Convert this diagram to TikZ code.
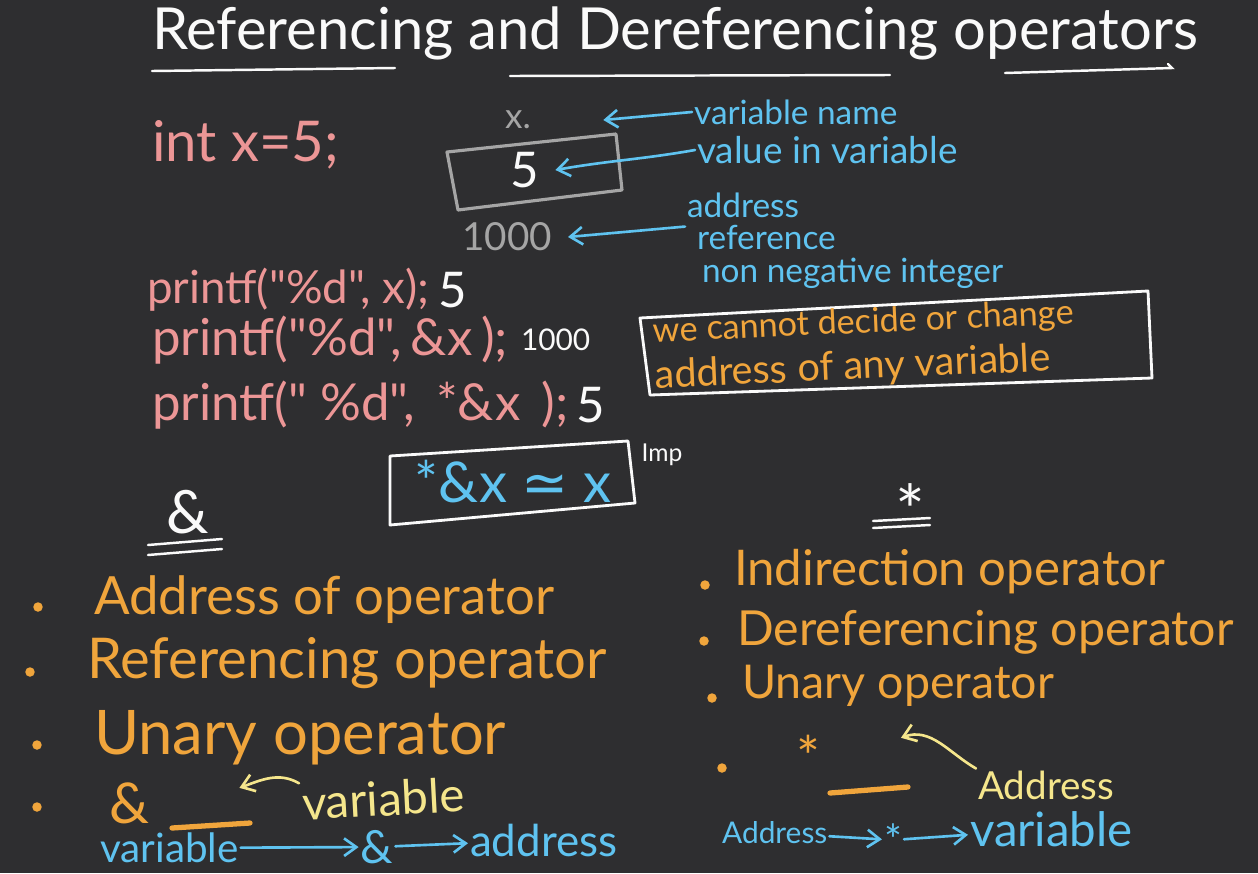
\documentclass[tikz,border=0pt]{standalone}
\usepackage{fontspec}
\setmainfont{Lato}
\newfontfamily\codefont{Lato}[Ligatures=TeXOff]
\newfontfamily\symfont{DejaVu Sans}
\usetikzlibrary{arrows.meta,positioning}
\definecolor{board}{RGB}{46,46,48}
\definecolor{chalk}{RGB}{250,250,250}
\definecolor{pinkc}{RGB}{236,150,150}
\definecolor{grayc}{RGB}{165,165,165}
\definecolor{bluec}{RGB}{95,195,240}
\definecolor{orangec}{RGB}{240,165,60}
\definecolor{yellowc}{RGB}{245,230,140}
\newcommand\hand[1]{\fontsize{#1}{#1}\selectfont}
\tikzset{
  >={Straight Barb[length=7pt,width=10pt]},
  title/.style={text=chalk, font=\hand{33}, inner sep=1pt},
  code/.style={text=pinkc, font=\codefont\hand{26}, inner sep=1pt},
  output/.style={text=chalk, font=\hand{22}, inner sep=1pt},
  memo/.style={text=grayc, font=\hand{20}, inner sep=1pt},
  note/.style={text=bluec, font=\hand{19}, inner sep=1pt},
  point/.style={text=orangec, font=\hand{30}, inner sep=1pt},
  tag/.style={text=yellowc, font=\hand{24}, inner sep=1pt},
  dot/.style={circle, fill=orangec, inner sep=0pt, minimum size=0.19cm},
  chalkline/.style={chalk, line width=1.4pt, line cap=round},
  frame/.style={chalk, line width=1.6pt, line join=round},
  notearrow/.style={->, bluec, line width=1.5pt, line cap=round},
  tagarrow/.style={->, yellowc, line width=1.5pt, line cap=round},
  blank/.style={orangec, line width=3pt, line cap=round}
}
\begin{document}
\begin{tikzpicture}[x=0.02cm,y=-0.02cm]
  % Board
  \fill[board] (0,0) rectangle (1258,873);
  \useasboundingbox (0,0) rectangle (1258,873);
  % Title and its underline
  \node[title, anchor=west] (title) at (150,33) {Referencing and Dereferencing operators};
  \draw[chalkline] (152,71) -- (395,68);
  \draw[chalkline] (510,76) -- (890,75);
  \draw[chalkline] (1005,73) -- (1172,68) -- (1168,64);
  % Declaration and memory cell
  \node[code, font=\hand{32}, anchor=west] (decl) at (150,145) {int x=5;};
  \draw[grayc, line width=1.8pt, line join=round] (447,152) -- (616,134) -- (622,190) -- (458,210) -- cycle;
  \node[output, font=\hand{28}] (val) at (525,170) {5};
  \node[memo] (xname) at (518,120) {x.};
  \node[memo, font=\hand{22}] (addr) at (507,237) {1000};
  % Annotations of the cell
  \node[note, anchor=west] (lblname) at (692,112) {variable name};
  \node[note, font=\hand{21}, anchor=west] (lblval) at (695,150) {value in variable};
  \node[note, anchor=west] (lbladdr) at (685,205) {address};
  \node[note, anchor=west] (lblref) at (695,237) {reference};
  \node[note, anchor=west] (lblint) at (700,273) {non negative integer};
  \draw[notearrow] (lblname.west) -- ([xshift=40pt]xname.east);
  \draw[notearrow] (lblval.west) to[out=190,in=10] ([xshift=8pt]val.east);
  \draw[notearrow] ([yshift=-4pt]lbladdr.south west) -- ([xshift=8pt]addr.east);
  % Remark box
  \draw[frame] (640,318) -- (1148,291) -- (1152,378) -- (650,395) -- cycle;
  \node[point, font=\hand{19.5}, align=left, anchor=west, rotate=2.5] (rem) at (652,356)
    {we cannot decide or change\\[5pt]{\hand{22.5}address of any variable}};
  % printf lines
  \node[code, anchor=west] (pf1) at (145,290) {printf("\%d", x);};
  \node[output, font=\hand{28}, right=3pt of pf1] (out1) {5};
  \node[code, font=\codefont\hand{29}, anchor=west] (pf2) at (150,340) {printf("\%d",\,\&x\,);};
  \node[output, font=\hand{17}, right=5pt of pf2] (out2) {1000};
  \node[code, font=\codefont\hand{29}, anchor=west] (pf3) at (150,405) {printf(" \%d",\, *\&x\, );};
  \node[output, font=\hand{28}, right=2pt of pf3] (out3) {5};
  % Important identity
  \draw[frame] (390,456) -- (628,441) -- (635,503) -- (390,525) -- cycle;
  \node[note, font=\hand{32}] (iden) at (513,482) {*\&x {\symfont ≃} x};
  \node[output, font=\hand{14}] (imp) at (662,455) {Imp};
  % Left column: address of operator
  \node[title, font=\hand{34}] (amp) at (188,512) {\&};
  \draw[chalkline] (148,545) -- (222,539);
  \draw[chalkline] (148,555) -- (222,549);
  \node[dot] (d1) at (38,607) {};
  \node[point, anchor=west] (p1) at (92,600) {Address of operator};
  \node[dot] (d2) at (30,672) {};
  \node[point, font=\hand{32}, anchor=west] (p2) at (85,663) {Referencing operator};
  \node[dot] (d3) at (37,745) {};
  \node[point, font=\hand{35}, anchor=west] (p3) at (92,738) {Unary operator};
  \node[dot] (d4) at (37,807) {};
  \node[point, font=\hand{32}] (amp2) at (130,803) {\&};
  \coordinate (blankL) at (250,823);
  \draw[blank] (172,828) -- (blankL);
  \node[tag, font=\hand{27}, anchor=west, rotate=3] (tagvar) at (300,803) {variable};
  \draw[tagarrow] (tagvar.north west) to[out=150,in=20] ([xshift=-6pt,yshift=20pt]blankL);
  \node[note, font=\hand{23}, anchor=west] (fromvar) at (98,848) {variable};
  \node[note, font=\hand{26}] (ampop) at (377,847) {\&};
  \node[note, font=\hand{25}, anchor=west] (toaddr) at (468,840) {address};
  \draw[notearrow] (fromvar) -- (ampop);
  \draw[notearrow] (ampop) -- (toaddr);
  % Right column: indirection operator
  \node[title, font=\hand{40}] (star) at (910,510) {*};
  \draw[chalkline] (873,521) -- (930,518);
  \draw[chalkline] (873,528) -- (930,525);
  \node[dot] (e1) at (705,585) {};
  \node[point, font=\hand{28}, anchor=west] (q1) at (732,572) {Indirection operator};
  \node[dot] (e2) at (704,641) {};
  \node[point, font=\hand{27.5}, anchor=west] (q2) at (735,632) {Dereferencing operator};
  \node[dot] (e3) at (712,698) {};
  \node[point, font=\hand{26.5}, anchor=west] (q3) at (740,686) {Unary operator};
  \node[dot] (e4) at (722,768) {};
  \node[point, font=\hand{32}] (star2) at (808,756) {*};
  \coordinate (blankR) at (908,787);
  \draw[blank] (830,793) -- (blankR);
  \node[tag, font=\hand{22}, anchor=west] (tagaddr) at (976,785) {Address};
  \draw[tagarrow] (tagaddr.north west) to[out=150,in=20] ([xshift=-4pt,yshift=28pt]blankR);
  \node[note, font=\hand{17}, anchor=west] (fromaddr) at (720,833) {Address};
  \node[note, font=\hand{24}] (starop) at (893,840) {*};
  \node[note, font=\hand{27}, anchor=west] (tovar) at (968,829) {variable};
  \draw[notearrow] (fromaddr) -- (starop);
  \draw[notearrow] (starop) -- (tovar);
\end{tikzpicture}
\end{document}
